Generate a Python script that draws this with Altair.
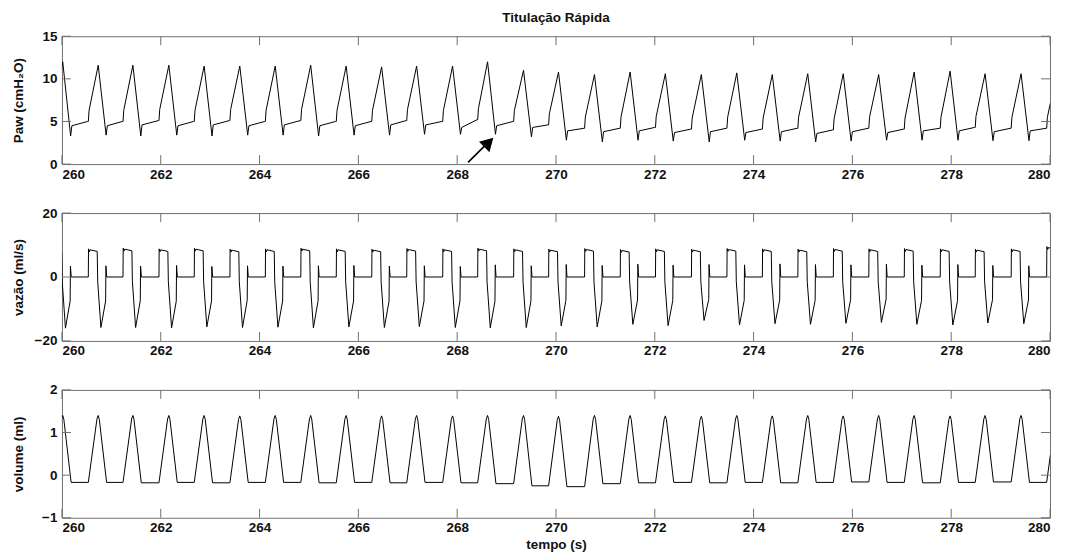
import altair as alt
import pandas as pd

# ---- per-breath readings (time of each pressure peak, in s) ----
peak_t = [260.016, 260.734, 261.436, 262.164, 262.878, 263.600, 264.317, 265.035,
          265.753, 266.471, 267.179, 267.907, 268.615, 269.343, 270.051, 270.779,
          271.501, 272.214, 272.942, 273.660, 274.378, 275.096, 275.814, 276.532,
          277.250, 277.978, 278.686, 279.414, 280.132]

# airway pressure (cmH2O)
paw_peak = [12.0, 11.6, 11.6, 11.6, 11.5, 11.5, 11.5, 11.6, 11.5, 11.4, 11.5, 11.5,
            12.0, 11.0, 10.8, 10.5, 10.8, 10.6, 10.5, 10.7, 10.5, 10.6, 10.6, 10.5,
            10.8, 10.9, 10.6, 10.6, 10.6]
paw_trough = [3.3, 3.4, 3.3, 3.4, 3.3, 3.4, 3.4, 3.3, 3.4, 3.4, 3.5, 3.5,
              3.5, 3.2, 2.8, 2.6, 2.8, 2.7, 2.6, 2.8, 2.7, 2.6, 2.7, 2.8,
              2.8, 2.8, 2.75, 2.75, 2.8]
paw_plat_start = [4.5, 4.5, 4.6, 4.5, 4.6, 4.5, 4.6, 4.5, 4.5, 4.6, 4.6, 4.3,
                  4.5, 4.3, 3.9, 3.8, 3.9, 3.7, 3.8, 3.7, 3.8, 3.6, 3.8, 3.7,
                  3.9, 3.9, 3.8, 3.9, 3.9]
paw_plat_end = [5.0, 5.0, 5.1, 5.0, 5.1, 5.0, 5.1, 5.0, 5.0, 5.1, 5.0, 5.2,
                5.0, 4.6, 4.2, 4.2, 4.3, 4.1, 4.2, 4.1, 4.2, 4.0, 4.2, 4.1,
                4.2, 4.3, 4.2, 4.2, 4.2]

# flow (ml/s)
flow_max = [8.5, 8.8, 9.0, 8.8, 9.0, 8.7, 8.8, 9.0, 8.8, 8.7, 8.9, 8.8,
            9.0, 8.8, 8.7, 8.9, 8.6, 8.8, 8.7, 8.9, 8.8, 8.7, 8.9, 8.8,
            8.9, 8.8, 8.7, 8.8, 9.5]
flow_min = [-16.0, -15.8, -15.8, -15.9, -15.6, -15.8, -15.7, -15.9, -15.6, -15.8,
            -15.5, -15.8, -15.9, -15.8, -15.3, -15.6, -14.8, -15.2, -13.6, -15.0,
            -14.6, -14.8, -14.5, -14.2, -14.8, -15.0, -14.4, -14.6, -15.0]
flow_release = [-7.5, -7.5, -7.4, -7.6, -7.5, -7.3, -7.5, -7.4, -7.5, -7.6,
                -7.5, -7.4, -7.6, -7.5, -7.3, -7.5, -7.2, -7.4, -7.0, -7.3,
                -7.2, -7.3, -7.1, -7.0, -7.3, -7.4, -7.1, -7.2, -7.3]
flow_rebound = [3.4, 3.5, 3.4, 3.6, 3.3, 3.5, 3.4, 3.5, 3.6, 3.4, 3.5, 3.3,
                3.8, 3.5, 3.9, 3.6, 4.0, 3.7, 3.9, 3.8, 4.1, 3.9, 3.8, 4.0,
                3.7, 3.9, 3.6, 3.5, 3.5]

# volume (ml)
vol_peak = [1.40, 1.40, 1.40, 1.40, 1.40, 1.39, 1.40, 1.40, 1.40, 1.39, 1.40, 1.39,
            1.40, 1.40, 1.38, 1.40, 1.40, 1.39, 1.38, 1.40, 1.39, 1.40, 1.39, 1.40,
            1.40, 1.39, 1.40, 1.40, 1.40]
vol_trough = [-0.17, -0.17, -0.18, -0.17, -0.18, -0.17, -0.17, -0.18, -0.17, -0.18,
              -0.17, -0.18, -0.20, -0.25, -0.27, -0.20, -0.18, -0.17, -0.18, -0.17,
              -0.18, -0.17, -0.16, -0.17, -0.18, -0.17, -0.16, -0.17, -0.17]

# tick labels
x_ticks = list(range(260, 281, 2))
paw_ticks = [0, 5, 10, 15]
flow_ticks = [-20, 0, 20]
vol_ticks = [-1, 0, 1, 2]

# annotation arrow (tail -> head) in the pressure panel
arrow_x = [268.22, 268.68]
arrow_y = [0.2, 2.85]
arrow_head_x = [268.64]
arrow_head_y = [2.55]

# ---- waveform vertices built from the per-breath readings ----
paw_rows, flow_rows, vol_rows = [], [], []
for i, tp in enumerate(peak_t):
    prev = max(i - 1, 0)
    pre = paw_plat_end[prev]
    for dt, v in [(-0.200, pre), (-0.185, pre + 1.3), (0.0, paw_peak[i]),
                  (0.160, paw_trough[i]), (0.185, paw_plat_start[i])]:
        paw_rows.append((tp + dt, v))
    if i + 1 < len(peak_t):
        paw_rows.append((peak_t[i + 1] - 0.215, paw_plat_end[i]))

    f = flow_max[i]
    for dt, v in [(-0.200, 0.0), (-0.196, f), (-0.178, f - 0.9), (-0.165, f - 0.3),
                  (-0.020, f - 0.8), (-0.010, -1.5), (0.055, flow_min[i]),
                  (0.150, flow_release[i]), (0.156, flow_rebound[i]), (0.172, 0.0)]:
        flow_rows.append((tp + dt, v))

    for dt, v in [(-0.200, vol_trough[prev]), (-0.025, vol_peak[i] - 0.08),
                  (0.0, vol_peak[i]), (0.022, vol_peak[i] - 0.09),
                  (0.170, vol_trough[i])]:
        vol_rows.append((tp + dt, v))

paw_df = pd.DataFrame(paw_rows, columns=["t", "v"])
flow_df = pd.DataFrame(flow_rows, columns=["t", "v"])
vol_df = pd.DataFrame(vol_rows, columns=["t", "v"])

W, H = 989, 128
TICK = 9
FRAME = "#707070"
FONT = "Liberation Sans"
FS = 13.5

x_scale = alt.Scale(domain=[260, 280], nice=False, zero=False)


def panel(df, ydomain, yticks, ytitle, show_xtitle=False, extra=None):
    y_scale = alt.Scale(domain=ydomain, nice=False, zero=False)
    x_axis = alt.Axis(values=x_ticks, format="d", title="tempo (s)" if show_xtitle else None,
                      labelPadding=3, titlePadding=3)
    y_axis = alt.Axis(values=yticks, format="d", title=ytitle, labelPadding=5,
                      titleX=-36, titleY=H / 2, titleAngle=-90, titleBaseline="bottom",
                      titleAlign="center")

    line = alt.Chart(df).mark_line(color="black", strokeWidth=1, clip=True).encode(
        x=alt.X("t:Q", scale=x_scale, axis=x_axis),
        y=alt.Y("v:Q", scale=y_scale, axis=y_axis),
    )
    xt = pd.DataFrame({"x": x_ticks})
    yt = pd.DataFrame({"y": yticks})
    tick_top = alt.Chart(xt).mark_rule(color=FRAME).encode(
        x=alt.X("x:Q", scale=x_scale), y=alt.value(0), y2=alt.value(TICK))
    tick_bot = alt.Chart(xt).mark_rule(color=FRAME).encode(
        x=alt.X("x:Q", scale=x_scale), y=alt.value(H - TICK), y2=alt.value(H))
    tick_left = alt.Chart(yt).mark_rule(color=FRAME).encode(
        y=alt.Y("y:Q", scale=y_scale), x=alt.value(0), x2=alt.value(TICK))
    tick_right = alt.Chart(yt).mark_rule(color=FRAME).encode(
        y=alt.Y("y:Q", scale=y_scale), x=alt.value(W - TICK), x2=alt.value(W))
    layers = [line, tick_top, tick_bot, tick_left, tick_right]
    if extra:
        layers += [e(y_scale) for e in extra]
    return alt.layer(*layers).properties(width=W, height=H)


def arrow_shaft(y_scale):
    d = pd.DataFrame({"x": arrow_x, "y": arrow_y})
    return alt.Chart(d).mark_line(color="black", strokeWidth=1.6).encode(
        x=alt.X("x:Q", scale=x_scale), y=alt.Y("y:Q", scale=y_scale))


def arrow_head(y_scale):
    d = pd.DataFrame({"x": arrow_head_x, "y": arrow_head_y})
    return alt.Chart(d).mark_point(shape="triangle-up", filled=True, color="black",
                                   size=220, angle=45, opacity=1).encode(
        x=alt.X("x:Q", scale=x_scale), y=alt.Y("y:Q", scale=y_scale))


p1 = panel(paw_df, [0, 15], paw_ticks, "Paw (cmH₂O)",
           extra=[arrow_shaft, arrow_head]).properties(
    title=alt.Title("Titulação Rápida", anchor="middle", fontSize=FS,
                    fontWeight="bold", font=FONT, color="#111111", offset=5))
p2 = panel(flow_df, [-20, 20], flow_ticks, "vazão (ml/s)")
p3 = panel(vol_df, [-1, 2], vol_ticks, "volume (ml)", show_xtitle=True)

chart = alt.vconcat(p1, p2, p3, spacing=24).properties(
    padding={"left": 11, "top": 10, "right": 16, "bottom": 2},
    background="white",
).configure_view(
    stroke=FRAME, strokeWidth=1
).configure_axis(
    domain=False, ticks=False, grid=False,
    labelFont=FONT, labelFontSize=FS, labelFontWeight="bold", labelColor="#111111",
    titleFont=FONT, titleFontSize=FS, titleColor="#111111", titleFontWeight="bold",
).configure_concat(spacing=24)

chart.save("out.html", embed_options={"renderer": "svg", "actions": False})
